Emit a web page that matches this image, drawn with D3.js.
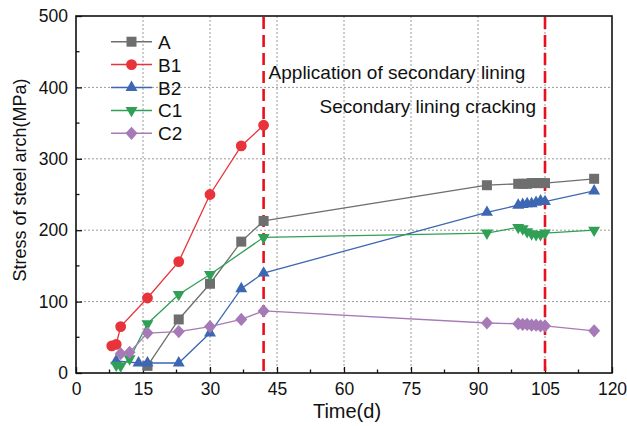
<!DOCTYPE html>
<html>
<head>
<meta charset="utf-8">
<script src="https://cdn.jsdelivr.net/npm/d3@7"></script>
<style>
  body { margin: 0; background: #fff; }
  text { font-family: "Liberation Sans", Arial, sans-serif; fill: #111; }
</style>
</head>
<body>
<div id="chart"></div>
<script>
// data
var timeA = [16, 23, 30, 37, 42, 92, 99, 100, 101, 102, 103, 104, 105, 116];
var stressA = [10, 75, 125, 184, 213, 263, 265, 265, 265, 266, 266, 266, 266, 272];

var timeB1 = [8, 9, 10, 16, 23, 30, 37, 42];
var stressB1 = [38, 40, 65, 105, 156, 250, 318, 347];

var timeB2 = [9, 14, 16, 23, 30, 37, 42, 92, 99, 100, 101, 102, 103, 104, 105, 116];
var stressB2 = [17, 14, 14, 14, 56, 118, 140, 225, 235, 236, 237, 237, 239, 241, 240, 255];

var timeC1 = [9, 10, 12, 16, 23, 30, 42, 92, 99, 100, 101, 102, 103, 104, 105, 116];
var stressC1 = [11, 10, 20, 69, 110, 138, 190, 196, 204, 202, 198, 195, 194, 194, 196, 200];

var timeC2 = [10, 12, 16, 23, 30, 37, 42, 92, 99, 100, 101, 102, 103, 104, 105, 116];
var stressC2 = [27, 29, 56, 58, 65, 75, 87, 70, 69, 68, 68, 67, 67, 66, 66, 59];

var seriesNames = ["A", "B1", "B2", "C1", "C2"];
var seriesColors = ["#6e6e6e", "#e8333a", "#3d67b3", "#2fa055", "#a67ab6"];
var seriesSymbols = ["square", "circle", "triangle", "triangleDown", "diamond"];

var xTicks = [0, 15, 30, 45, 60, 75, 90, 105, 120];
var yTicks = [0, 100, 200, 300, 400, 500];
var eventDays = [42, 105];
var eventLabels = ["Application of secondary lining", "Secondary lining cracking"];

var svgWidth = 627;
var svgHeight = 426;
var margin = { top: 16, right: 15, bottom: 53, left: 76 };
var width = svgWidth - margin.left - margin.right;
var height = svgHeight - margin.top - margin.bottom;

var svg = d3.select("#chart").append("svg")
    .attr("width", svgWidth)
    .attr("height", svgHeight);

var g = svg.append("g")
    .attr("transform", "translate(" + margin.left + "," + margin.top + ")");

var x = d3.scaleLinear().domain([0, 120]).range([0, width]);
var y = d3.scaleLinear().domain([0, 500]).range([height, 0]);

// grid
g.selectAll(".gx").data(xTicks.filter(function(d) { return d > 0 && d < 120; }))
    .enter().append("line")
    .attr("x1", function(d) { return x(d); }).attr("x2", function(d) { return x(d); })
    .attr("y1", 0).attr("y2", height)
    .attr("stroke", "#9a9a9a").attr("stroke-width", 1).attr("stroke-dasharray", "2,2");
g.selectAll(".gy").data(yTicks.filter(function(d) { return d > 0 && d < 500; }))
    .enter().append("line")
    .attr("x1", 0).attr("x2", width)
    .attr("y1", function(d) { return y(d); }).attr("y2", function(d) { return y(d); })
    .attr("stroke", "#9a9a9a").attr("stroke-width", 1).attr("stroke-dasharray", "2,2");

// axes, ticks pointing inward
var xAxis = d3.axisBottom(x).tickValues(xTicks).tickSizeInner(-6).tickSizeOuter(0).tickPadding(10);
var yAxis = d3.axisLeft(y).tickValues(yTicks).tickSizeInner(-6).tickSizeOuter(0).tickPadding(8);
var xg = g.append("g").attr("transform", "translate(0," + height + ")").call(xAxis);
var yg = g.append("g").call(yAxis);
[xg, yg].forEach(function(a) {
  a.select(".domain").remove();
  a.selectAll("text").style("font-size", "17.5px").attr("fill", "#111");
  a.selectAll("line").attr("stroke", "#111").attr("stroke-width", 1.3);
});

// minor ticks
var xMinor = d3.range(7.5, 120, 15);
var yMinor = d3.range(50, 500, 100);
g.selectAll(".mx").data(xMinor).enter().append("line")
    .attr("x1", function(d) { return x(d); }).attr("x2", function(d) { return x(d); })
    .attr("y1", height).attr("y2", height - 3.5)
    .attr("stroke", "#111").attr("stroke-width", 1.3);
g.selectAll(".my").data(yMinor).enter().append("line")
    .attr("x1", 0).attr("x2", 3.5)
    .attr("y1", function(d) { return y(d); }).attr("y2", function(d) { return y(d); })
    .attr("stroke", "#111").attr("stroke-width", 1.3);

// frame
g.append("rect").attr("width", width).attr("height", height)
    .attr("fill", "none").attr("stroke", "#111").attr("stroke-width", 1.6);

// event lines
g.selectAll(".ev").data(eventDays).enter().append("line")
    .attr("x1", function(d) { return x(d); }).attr("x2", function(d) { return x(d); })
    .attr("y1", 1).attr("y2", height)
    .attr("stroke", "#e8101c").attr("stroke-width", 2.6).attr("stroke-dasharray", "12,6");

g.append("text").attr("x", x(42) + 5).attr("y", 63)
    .style("font-size", "19px").text(eventLabels[0]);
g.append("text").attr("x", x(105) - 9).attr("y", 97).attr("text-anchor", "end")
    .style("font-size", "19px").text(eventLabels[1]);

// series
var allTimes = [timeA, timeB1, timeB2, timeC1, timeC2];
var allStress = [stressA, stressB1, stressB2, stressC1, stressC2];

function symbolPath(kind) {
  if (kind === "square") return d3.symbol().type(d3.symbolSquare).size(100)();
  if (kind === "circle") return d3.symbol().type(d3.symbolCircle).size(92)();
  if (kind === "diamond") return "M0,-6.6L6,0L0,6.6L-6,0Z";
  return d3.symbol().type(d3.symbolTriangle).size(62)();
}

var line = d3.line().x(function(d) { return x(d[0]); }).y(function(d) { return y(d[1]); });

seriesNames.forEach(function(name, i) {
  var pts = allTimes[i].map(function(t, j) { return [t, allStress[i][j]]; });
  var sg = g.append("g");
  sg.append("path").datum(pts).attr("d", line)
      .attr("fill", "none").attr("stroke", seriesColors[i]).attr("stroke-width", 1.3);
  sg.selectAll("path.m").data(pts).enter().append("path")
      .attr("class", "m")
      .attr("d", symbolPath(seriesSymbols[i]))
      .attr("transform", function(d) {
        return "translate(" + x(d[0]) + "," + y(d[1]) + ")" + (seriesSymbols[i] === "triangleDown" ? " rotate(180)" : "");
      })
      .attr("fill", seriesColors[i]);
});

// legend
var legend = g.append("g").attr("transform", "translate(35,25.7)");
seriesNames.forEach(function(name, i) {
  var row = legend.append("g").attr("transform", "translate(0," + (i * 22.9) + ")");
  row.append("line").attr("x1", 0).attr("x2", 41).attr("y1", 0).attr("y2", 0)
      .attr("stroke", seriesColors[i]).attr("stroke-width", 1.5);
  row.append("path").attr("d", symbolPath(seriesSymbols[i]))
      .attr("transform", "translate(20.5,0)" + (seriesSymbols[i] === "triangleDown" ? " rotate(180)" : ""))
      .attr("fill", seriesColors[i]);
  row.append("text").attr("x", 47).attr("y", 7).style("font-size", "19px").text(name);
});

// axis titles
svg.append("text").attr("x", margin.left + width / 2 + 3).attr("y", 418)
    .attr("text-anchor", "middle").style("font-size", "20px").text("Time(d)");
svg.append("text").attr("transform", "translate(26,180) rotate(-90)")
    .attr("text-anchor", "middle").style("font-size", "18px").text("Stress of steel arch(MPa)");
</script>
</body>
</html>
